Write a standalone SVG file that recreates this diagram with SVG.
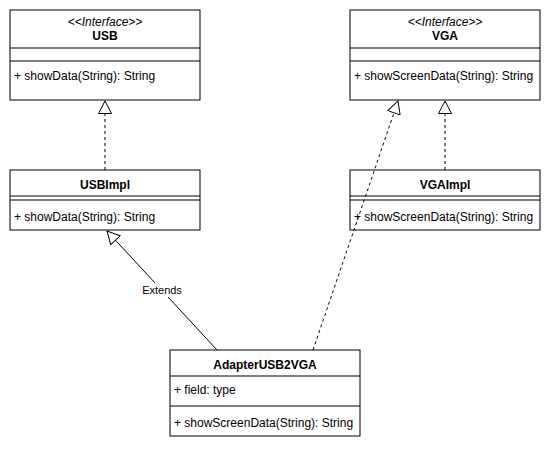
<svg xmlns="http://www.w3.org/2000/svg" width="551" height="450" viewBox="0 0 551 450">
<style>
.box{fill:#fff;stroke:#000;stroke-width:1}
.sep{stroke:#000;stroke-width:1;fill:none}
text{font-family:"Liberation Sans",Arial,Helvetica,sans-serif;font-size:12px;fill:#000}
.t{font-weight:bold;text-anchor:middle}
.st{font-style:italic;text-anchor:middle}
.m{text-anchor:start}
.edge{stroke:#000;stroke-width:1;fill:none}
.dash{stroke-dasharray:3 3}
.lbl{font-size:11px;text-anchor:middle}
</style>
<defs>
<marker id="tri" viewBox="0 0 14 14" refX="13" refY="7" markerWidth="14" markerHeight="14" markerUnits="userSpaceOnUse" orient="auto">
<path d="M0.5,0.5 L13,7 L0.5,13.5 Z" fill="#fff" stroke="#000" stroke-width="1"/>
</marker>
</defs>
<rect width="551" height="450" fill="#fff"/>
<g id="USB">
<rect class="box" x="10" y="10" width="190" height="90"/>
<text class="st" x="105" y="25.5">&lt;&lt;Interface&gt;&gt;</text>
<text class="t" x="105" y="40">USB</text>
<line class="sep" x1="10" y1="48" x2="200" y2="48"/>
<line class="sep" x1="10" y1="61" x2="200" y2="61"/>
<text class="m" x="14" y="80">+ showData(String): String</text>
</g>
<g id="VGA">
<rect class="box" x="350" y="10" width="190" height="90"/>
<text class="st" x="445" y="25.5">&lt;&lt;Interface&gt;&gt;</text>
<text class="t" x="445" y="40">VGA</text>
<line class="sep" x1="350" y1="48" x2="540" y2="48"/>
<line class="sep" x1="350" y1="61" x2="540" y2="61"/>
<text class="m" x="354" y="80">+ showScreenData(String): String</text>
</g>
<g id="USBImpl">
<rect class="box" x="10" y="170" width="190" height="60"/>
<text class="t" x="105" y="189">USBImpl</text>
<line class="sep" x1="10" y1="196" x2="200" y2="196"/>
<line class="sep" x1="10" y1="200" x2="200" y2="200"/>
<text class="m" x="14" y="221">+ showData(String): String</text>
</g>
<g id="VGAImpl">
<rect class="box" x="350" y="170" width="190" height="60"/>
<text class="t" x="445" y="189">VGAImpl</text>
<line class="sep" x1="350" y1="196" x2="540" y2="196"/>
<line class="sep" x1="350" y1="200" x2="540" y2="200"/>
<text class="m" x="354" y="221">+ showScreenData(String): String</text>
</g>
<g id="AdapterUSB2VGA">
<rect class="box" x="170" y="350" width="190" height="86"/>
<text class="t" x="265" y="369">AdapterUSB2VGA</text>
<line class="sep" x1="170" y1="376" x2="360" y2="376"/>
<text class="m" x="174" y="394">+ field: type</text>
<line class="sep" x1="170" y1="406" x2="360" y2="406"/>
<text class="m" x="174" y="427">+ showScreenData(String): String</text>
</g>
<g id="connectors">
<line class="edge dash" x1="105" y1="170" x2="105" y2="101" marker-end="url(#tri)"/>
<line class="edge dash" x1="445" y1="170" x2="445" y2="101" marker-end="url(#tri)"/>
<line class="edge dash" x1="313" y1="350" x2="398" y2="101" marker-end="url(#tri)"/>
<line class="edge" x1="217" y1="350" x2="107" y2="231" marker-end="url(#tri)"/>
<rect x="141" y="283" width="42" height="14" fill="#fff"/>
<text class="lbl" x="162" y="294">Extends</text>
</g>
</svg>
